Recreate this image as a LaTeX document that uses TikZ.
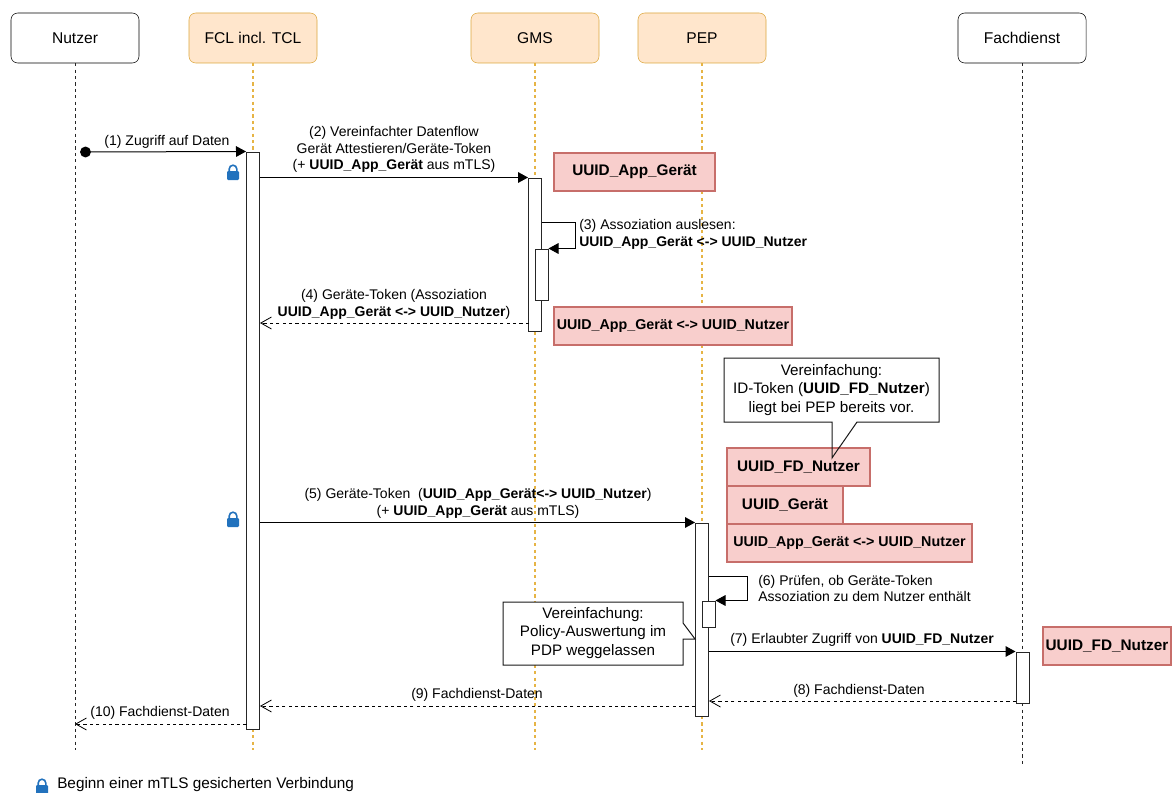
\documentclass[tikz,border=0pt]{standalone}
\usepackage{fontspec}
\setmainfont{Liberation Sans}
\definecolor{headorange}{HTML}{FFE6CC}
\definecolor{edgeorange}{HTML}{DCA63C}
\definecolor{lifeorange}{HTML}{E6B445}
\definecolor{tokenred}{HTML}{F8CECC}
\definecolor{edgered}{HTML}{C76E6A}
\definecolor{lockblue}{HTML}{2272BD}
\usetikzlibrary{arrows.meta, positioning, calc}
\begin{document}
\begin{tikzpicture}[x=0.75pt, y=-0.75pt,
  head/.style={draw=black, fill=white, rounded corners=5pt, minimum width=96pt, minimum height=37.5pt, inner sep=0pt, font=\fontsize{11.7}{14}\selectfont},
  headcol/.style={head, draw=edgeorange, fill=headorange},
  life/.style={dashed, dash pattern=on 2.4pt off 2.4pt, line width=0.7pt, black!85},
  lifecol/.style={life, line width=0.8pt, lifeorange},
  bar/.style={draw=black!85, fill=white, line width=0.75pt, minimum width=9.75pt, minimum height=#1*0.75pt, inner sep=0pt},
  token/.style={draw=edgered, fill=tokenred, line width=0.8pt, minimum width=#1*0.75pt, minimum height=28.5pt, inner sep=0pt, font=\fontsize{11.5}{14}\selectfont\bfseries},
  msg/.style={-{Triangle[length=7.5pt, width=8pt]}, line width=0.75pt},
  back/.style={-{Straight Barb[length=8pt, width=9pt]}, dashed, dash pattern=on 2.4pt off 2.4pt, line width=0.6pt},
  lbl/.style={align=center, inner sep=0pt, font=\fontsize{10.5}{12.4}\selectfont},
  lblleft/.style={lbl, align=left, anchor=west},
  note/.style={align=center, inner sep=0pt, font=\fontsize{11.4}{13.75}\selectfont},
  notebox/.style={draw=black!90, fill=white, line width=0.75pt},
  lock/.pic={
    \fill[lockblue, rounded corners=0.8pt] (-6,-1) rectangle (6,8);
    \draw[lockblue, line width=1.2pt] (-3.8,-1) -- (-3.8,-3) arc[start angle=180, end angle=360, radius=3.8] -- (3.8,-1);
  }
]
  \useasboundingbox (0,0) rectangle (1173,792);

  % heads
  \node[head] (nutzer) at (75,38) {Nutzer};
  \node[headcol] (fcl) at (253,38) {FCL incl. TCL};
  \node[headcol] (gms) at (535,38) {GMS};
  \node[headcol] (pep) at (702,38) {PEP};
  \node[head] (fach) at (1022,38) {Fachdienst};

  % lifelines
  \coordinate (nutzerEnd) at (75,750);
  \coordinate (fclEnd) at (253,750);
  \coordinate (gmsEnd) at (535,750);
  \coordinate (pepEnd) at (702,750);
  \coordinate (fachEnd) at (1022,766);
  \draw[life] (nutzer) -- (nutzerEnd);
  \draw[lifecol] (fcl) -- (fclEnd);
  \draw[lifecol] (gms) -- (gmsEnd);
  \draw[lifecol] (pep) -- (pepEnd);
  \draw[life] (fach) -- (fachEnd);

  % activation bars
  \node[bar=577] (barF) at (253,440.5) {};
  \node[bar=153] (barG) at (535,254.5) {};
  \node[bar=51] (barGin) at (541.5,274.5) {};
  \node[bar=193] (barP) at (702,619.5) {};
  \node[bar=26] (barPin) at (708.5,614) {};
  \node[bar=51] (barD) at (1022.5,677.5) {};

  % tokens
  \node[token=161] (tokA) at (634.5,172) {UUID\_App\_Gerät};
  \node[token=238] (tokB) at (673,326) {\fontsize{10.7}{14}\selectfont UUID\_App\_Gerät <-> UUID\_Nutzer};

  % note over the token stack
  \draw[notebox] (724,358) -- (939,358) -- (939,422) -- (857,422) -- (832,458) -- (832,422) -- (724,422) -- cycle;
  \node[note] (noteA) at (831.5,390) {Vereinfachung:\\ID-Token (\textbf{UUID\_FD\_Nutzer})\\liegt bei PEP bereits vor.};
  \node[token=143] (tokC) at (798.5,467) {UUID\_FD\_Nutzer};
  \node[token=116] (tokD) at (785,505) {UUID\_Gerät};
  \node[token=245] (tokE) at (849.5,543) {\fontsize{10.7}{14}\selectfont UUID\_App\_Gerät <-> UUID\_Nutzer};
  \node[token=128] (tokF) at (1107,646) {UUID\_FD\_Nutzer};
  \draw[black!90, line width=0.75pt] (832,447) -- (832,458) -- (839.5,447);

  % note beside PEP
  \draw[notebox] (503,602) -- (683,602) -- (683,623) -- (695,639) -- (683,639) -- (683,665) -- (503,665) -- cycle;
  \node[note] (noteB) at (593,633) {Vereinfachung:\\Policy-Auswertung im\\PDP weggelassen};

  % messages
  \node[circle, fill=black, minimum size=8.2pt, inner sep=0pt] (startDot) at (85.5,152) {};
  \draw[msg] (startDot) -- (barF.north west);
  \draw[msg] (barF.east |- barG.north) -- (barG.north west);
  \coordinate (selfG) at (575,222);
  \draw[msg] (barG.east |- selfG) -- (selfG) -- (selfG |- barGin.north) -- (barGin.north east);
  \coordinate (backFour) at (529,323);
  \draw[back] (backFour) -- (barF.east |- backFour);
  \draw[msg] (barF.east |- barP.north) -- (barP.north west);
  \coordinate (selfP) at (747,576);
  \draw[msg] (barP.east |- selfP) -- (selfP) -- (selfP |- barPin.north) -- (barPin.north east);
  \draw[msg] (barP.east |- barD.north) -- (barD.north west);
  \coordinate (backEight) at (1016,701);
  \draw[back] (backEight) -- (barP.east |- backEight);
  \coordinate (backNine) at (695,706);
  \draw[back] (backNine) -- (barF.east |- backNine);
  \coordinate (backTen) at (246.5,724);
  \draw[back] (backTen) -- (nutzer |- backTen);

  % message labels
  \node[lbl] (lblOne) at (167,141.5) {(1) Zugriff auf Daten};
  \node[lbl] (lblTwo) at (394,149.5) {(2) Vereinfachter Datenflow\\Gerät Attestieren/Geräte-Token\\(+ \textbf{UUID\_App\_Gerät} aus mTLS)};
  \node[lblleft] (lblThree) at (579,234.5) {(3) Assoziation auslesen:\\\textbf{UUID\_App\_Gerät <-> UUID\_Nutzer}};
  \node[lbl] (lblFour) at (394,304.5) {(4) Geräte-Token (Assoziation\\\textbf{UUID\_App\_Gerät <-> UUID\_Nutzer})};
  \node[lbl] (lblFive) at (478,503.5) {(5) Geräte-Token\ \ (\textbf{UUID\_App\_Gerät<-> UUID\_Nutzer})\\(+ \textbf{UUID\_App\_Gerät} aus mTLS)};
  \node[lblleft] (lblSix) at (758,588.5) {(6) Prüfen, ob Geräte-Token\\Assoziation zu dem Nutzer enthält};
  \node[lbl] (lblSeven) at (862,639.5) {(7) Erlaubter Zugriff von \textbf{UUID\_FD\_Nutzer}};
  \node[lbl] (lblEight) at (859,690.5) {(8) Fachdienst-Daten};
  \node[lbl] (lblNine) at (477,694.5) {(9) Fachdienst-Daten};
  \node[lbl] (lblTen) at (160,712.5) {(10) Fachdienst-Daten};

  % locks and legend
  \pic at (233,172) {lock};
  \pic at (233,519) {lock};
  \pic at (42,786) {lock};
  \node[lblleft, font=\fontsize{11.5}{14}\selectfont] (legend) at (57,785) {Beginn einer mTLS gesicherten Verbindung};
\end{tikzpicture}
\end{document}
